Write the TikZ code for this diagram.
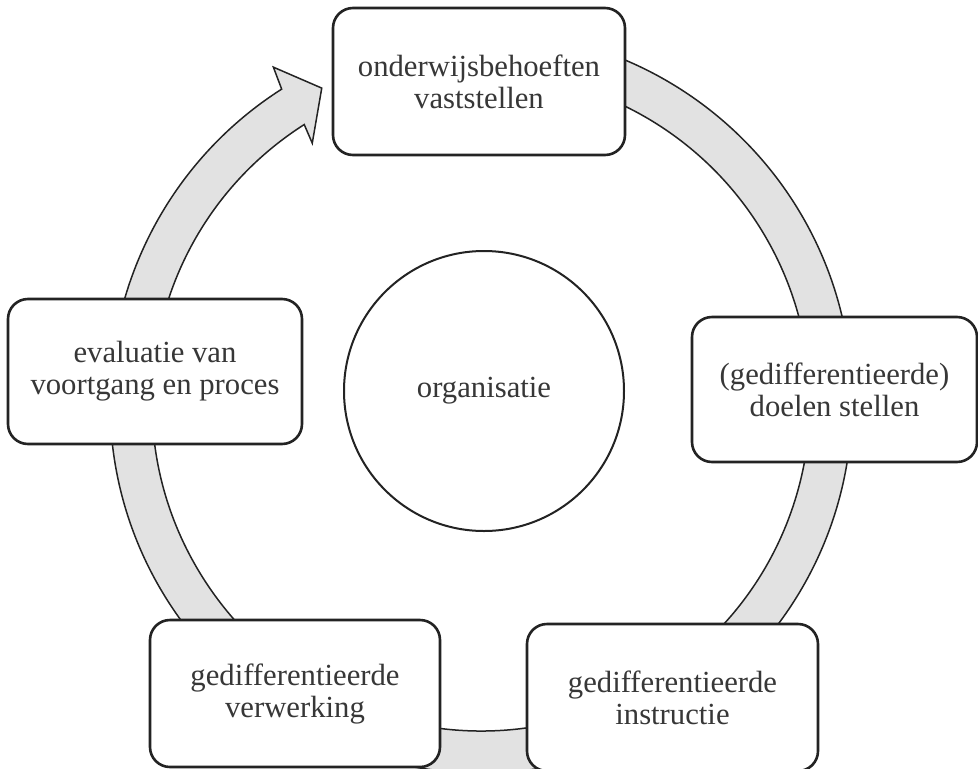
\documentclass[tikz,border=0pt]{standalone}
\usepackage{fontspec}
\setmainfont{Liberation Serif}
\definecolor{ringfill}{RGB}{226,226,226}
\definecolor{ink}{RGB}{35,35,35}
\definecolor{txt}{RGB}{55,55,55}
\begin{document}
\begin{tikzpicture}[x=1pt,y=1pt,
  stage/.style={draw=ink, line width=2.6pt, rounded corners=20pt, fill=white, align=center, inner sep=0pt, text=txt, font=\fontsize{30.7}{32}\selectfont},
  ring/.style={draw=ink, line width=1.5pt, fill=ringfill, line join=miter},
  hub/.style={circle, draw=ink, line width=2pt, fill=white, minimum size=280pt, inner sep=0pt, text=txt, font=\fontsize{30.7}{32}\selectfont}]
\useasboundingbox (0,0) rectangle (978,-769);
\clip (0,0) rectangle (978,-769);
\fill[white] (0,0) rectangle (978,-769);
\begin{scope}[shift={(481,-402)}]
\draw[ring] (90:371pt) arc[start angle=90, end angle=-237.5, radius=371pt]
  -- (121.8:394pt) -- (116.9:352pt) -- (123.1:309pt) -- (-237.5:329pt)
  arc[start angle=-237.5, end angle=90, radius=329pt] -- cycle;
\end{scope}
\node[stage, minimum width=292pt, minimum height=147pt] (assess) at (479,-81.5) {onderwijsbehoeften\\vaststellen};
\node[stage, minimum width=285pt, minimum height=145pt] (goals) at (834.5,-389.5) {(gedifferentieerde)\\doelen stellen};
\node[stage, minimum width=291pt, minimum height=147pt] (instr) at (672.5,-697.5) {gedifferentieerde\\instructie};
\node[stage, minimum width=290pt, minimum height=147pt] (work) at (295,-693.5) {gedifferentieerde\\verwerking};
\node[stage, minimum width=294pt, minimum height=145pt] (eval) at (155,-371.5) {evaluatie van\\voortgang en proces};
\node[hub] (org) at (484,-391) {organisatie};
\end{tikzpicture}
\end{document}
